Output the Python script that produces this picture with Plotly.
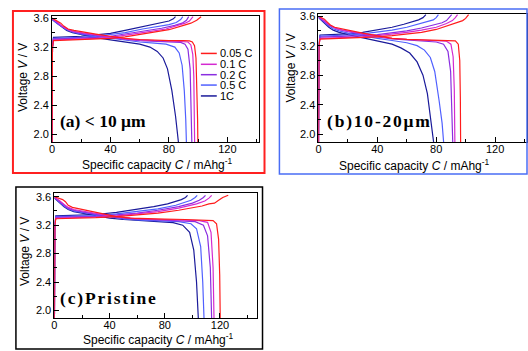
import plotly.graph_objects as go

RATES = ["1C", "0.5 C", "0.2 C", "0.1 C", "0.05 C"]
COLORS = {"0.05 C": "#ff1c1c", "0.1 C": "#d42ad0", "0.2 C": "#8a2ee0", "0.5 C": "#5060ff", "1C": "#1a1a9a"}

# ---------- panel (a) < 10 um ----------
A_DIS = {
    "0.05 C": ([0,2,4,6,8,11,15,20,30,40,50,60,70,80,90,94,96,97.5,98.5,99.2,99.6,99.8],
               [3.60,3.58,3.56,3.53,3.49,3.45,3.43,3.41,3.38,3.35,3.32,3.305,3.295,3.29,3.29,3.285,3.27,3.22,3.05,2.6,2.2,1.85]),
    "0.1 C": ([0,2,4,6,9,12,16,22,30,40,50,60,70,80,90,93,95,96.3,97,97.4,97.6],
              [3.595,3.57,3.54,3.5,3.46,3.43,3.41,3.39,3.37,3.34,3.31,3.295,3.29,3.285,3.28,3.27,3.23,3.1,2.8,2.3,1.85]),
    "0.2 C": ([0,2,4,7,10,14,20,30,40,50,60,70,80,88,91,93,94.5,95.3,95.7],
              [3.59,3.56,3.53,3.48,3.45,3.42,3.39,3.36,3.33,3.305,3.29,3.28,3.275,3.265,3.24,3.17,2.9,2.4,1.85]),
    "0.5 C": ([0,2,4,7,10,14,20,30,40,50,60,70,78,84,87,89,90.5,91.5,92],
              [3.585,3.55,3.52,3.48,3.44,3.41,3.38,3.35,3.32,3.29,3.27,3.255,3.24,3.2,3.12,2.95,2.6,2.2,1.85]),
    "1C": ([0,2,4,7,10,14,20,30,40,50,60,67,72,76,79,82,84.5,86.7],
           [3.58,3.55,3.51,3.47,3.43,3.4,3.37,3.33,3.3,3.27,3.24,3.2,3.14,3.05,2.9,2.6,2.25,1.85]),
}
A_CHG = {
    "0.05 C": ([0,0.3,1,10,20,30,40,50,62,80,90,95,99,102],
               [1.85,3.2,3.29,3.295,3.3,3.31,3.32,3.34,3.38,3.44,3.5,3.53,3.57,3.62]),
    "0.1 C": ([0,0.3,1,10,20,30,40,50,62,78,87,91,94,96.5],
              [1.85,3.2,3.3,3.305,3.31,3.32,3.335,3.36,3.40,3.45,3.5,3.53,3.56,3.62]),
    "0.2 C": ([0,0.3,1,10,20,30,40,50,62,75,84,89,92,93.5],
              [1.85,3.2,3.31,3.315,3.32,3.335,3.35,3.38,3.42,3.46,3.5,3.53,3.57,3.62]),
    "0.5 C": ([0,0.3,1,10,20,30,40,50,62,72,80,85,88,89.5],
              [1.85,3.2,3.32,3.325,3.335,3.35,3.37,3.40,3.45,3.48,3.51,3.54,3.58,3.62]),
    "1C": ([0,0.3,1,10,20,30,40,50,62,70,76,80,83,84.5],
           [1.85,3.2,3.335,3.34,3.35,3.37,3.39,3.43,3.48,3.51,3.54,3.56,3.59,3.62]),
}

# ---------- panel (b) 10-20 um ----------
B_DIS = {
    "0.05 C": ([0,2,4,6,8,11,15,20,30,40,50,60,70,80,90,93,95,96,96.4,96.6],
               [3.6,3.58,3.56,3.52,3.48,3.45,3.43,3.41,3.37,3.33,3.3,3.285,3.28,3.275,3.27,3.265,3.22,3.0,2.5,1.85]),
    "0.1 C": ([0,2,4,6,9,12,16,22,30,40,50,60,70,80,87,90,91.5,92.3,92.7],
              [3.595,3.57,3.54,3.5,3.46,3.43,3.41,3.39,3.36,3.33,3.3,3.285,3.275,3.27,3.26,3.22,3.05,2.6,1.85]),
    "0.2 C": ([0,2,4,7,10,14,20,30,40,50,60,70,80,85,88,89.8,90.8,91.3],
              [3.59,3.56,3.53,3.48,3.45,3.42,3.39,3.35,3.32,3.29,3.275,3.265,3.25,3.22,3.12,2.85,2.35,1.85]),
    "0.5 C": ([0,2,4,7,10,14,20,30,40,50,60,67,72,76,79,82,84,85.2],
              [3.585,3.55,3.51,3.47,3.43,3.4,3.37,3.33,3.3,3.27,3.24,3.2,3.14,3.04,2.85,2.45,2.15,1.85]),
    "1C": ([0,2,4,7,10,14,20,30,40,50,56,62,67,71,74,76.5,78.5],
           [3.58,3.54,3.5,3.45,3.41,3.38,3.35,3.31,3.27,3.22,3.17,3.1,2.98,2.8,2.55,2.2,1.85]),
}
B_CHG = {
    "0.05 C": ([0,0.3,1,10,20,30,40,50,60,70,80,88,94,98,100,102],
               [1.85,3.2,3.29,3.295,3.3,3.31,3.32,3.335,3.355,3.38,3.42,3.47,3.51,3.54,3.57,3.62]),
    "0.1 C": ([0,0.3,1,10,20,30,40,50,60,70,80,87,91,93,94.5],
              [1.85,3.2,3.3,3.305,3.31,3.32,3.335,3.355,3.38,3.41,3.45,3.5,3.54,3.58,3.62]),
    "0.2 C": ([0,0.3,1,10,20,30,40,50,60,70,78,84,87,89,90.5],
              [1.85,3.2,3.315,3.32,3.325,3.335,3.35,3.37,3.40,3.44,3.48,3.51,3.54,3.58,3.62]),
    "0.5 C": ([0,0.3,1,10,20,30,40,50,60,68,74,78,80,81.5],
              [1.85,3.2,3.33,3.335,3.345,3.36,3.38,3.41,3.45,3.49,3.52,3.55,3.58,3.62]),
    "1C": ([0,0.3,1,10,20,30,40,50,58,64,68,71,73],
           [1.85,3.2,3.345,3.35,3.36,3.38,3.41,3.45,3.49,3.52,3.55,3.58,3.62]),
}

# ---------- panel (c) Pristine ----------
C_DIS = {
    "0.05 C": ([0,2,4,6,8,10,13,18,25,35,45,55,65,80,95,110,115,117.5,119,119.8,120.2],
               [3.6,3.585,3.57,3.56,3.53,3.48,3.45,3.43,3.4,3.36,3.32,3.3,3.29,3.285,3.28,3.275,3.265,3.22,3.0,2.5,1.85]),
    "0.1 C": ([0,2,4,7,10,14,20,30,40,50,60,75,90,105,111,113.5,115,115.7],
              [3.595,3.57,3.54,3.49,3.45,3.42,3.4,3.37,3.33,3.31,3.29,3.28,3.275,3.265,3.24,3.1,2.6,1.85]),
    "0.2 C": ([0,2,4,7,10,14,20,30,40,50,60,75,90,102,108,111,113,114],
              [3.59,3.56,3.53,3.48,3.44,3.41,3.39,3.36,3.32,3.3,3.285,3.275,3.265,3.25,3.2,3.05,2.6,1.85]),
    "0.5 C": ([0,2,4,7,10,14,20,30,40,50,60,75,90,99,103,106,107.5,108.5],
              [3.585,3.55,3.52,3.47,3.43,3.4,3.38,3.35,3.31,3.29,3.275,3.265,3.25,3.22,3.15,2.9,2.4,1.85]),
    "1C": ([0,2,4,7,10,14,20,30,40,50,60,75,86,93,98,101,103,104.4],
           [3.58,3.54,3.51,3.46,3.42,3.39,3.37,3.33,3.3,3.28,3.265,3.25,3.235,3.2,3.1,2.85,2.4,1.85]),
}
C_CHG = {
    "0.05 C": ([0,0.3,1,15,30,45,60,75,90,100,107,112,116,119,122,126],
               [1.85,3.2,3.29,3.295,3.305,3.32,3.34,3.37,3.41,3.44,3.47,3.5,3.51,3.55,3.59,3.62]),
    "0.1 C": ([0,0.3,1,15,30,45,60,75,90,103,109,112,114],
              [1.85,3.2,3.3,3.305,3.315,3.33,3.355,3.39,3.44,3.5,3.54,3.58,3.62]),
    "0.2 C": ([0,0.3,1,15,30,45,60,75,90,100,105,108,109.5],
              [1.85,3.2,3.31,3.315,3.325,3.345,3.37,3.41,3.46,3.51,3.55,3.59,3.62]),
    "0.5 C": ([0,0.3,1,15,30,45,60,75,88,95,99,102,103.5],
              [1.85,3.2,3.32,3.325,3.335,3.36,3.39,3.43,3.48,3.52,3.55,3.59,3.62]),
    "1C": ([0,0.3,1,15,30,45,60,72,82,88,92,95,96.5],
           [1.85,3.2,3.33,3.335,3.35,3.38,3.42,3.46,3.5,3.53,3.56,3.59,3.62]),
}

PANEL_TITLES = ["(a) &lt; 10 μm", "(b)10-20μm", "(c)Pristine"]
X_TICKS = [0, 40, 80, 120]
Y_TICKS = [2.0, 2.4, 2.8, 3.2, 3.6]

W, H = 528, 351
def px(x):
    return x / W
def py(y):
    return 1 - y / H

fig = go.Figure()
panels = [(A_DIS, A_CHG, "x", "y"), (B_DIS, B_CHG, "x2", "y2"), (C_DIS, C_CHG, "x3", "y3")]
for dis, chg, xa, ya in panels:
    for r in RATES:
        for data in (chg, dis):
            c, v = data[r]
            fig.add_trace(go.Scatter(x=c, y=v, mode="lines", xaxis=xa, yaxis=ya,
                                     line=dict(color=COLORS[r], width=1.2),
                                     showlegend=False, hoverinfo="skip"))

FONT = "Liberation Sans, Arial, sans-serif"
def xax(dom, rng):
    return dict(domain=dom, range=rng, tickvals=X_TICKS, ticks="inside", ticklen=5,
                tickwidth=1, tickcolor="black", showline=True, linecolor="black", linewidth=1,
                mirror=True, showgrid=False, zeroline=False, ticklabelstandoff=-4,
                tickfont=dict(family=FONT, size=11, color="black"),
                minor=dict(tickvals=[20, 60, 100, 140], ticks="inside", ticklen=3, tickcolor="black"))
def yax(dom, rng, anchor):
    return dict(domain=dom, range=rng, tickvals=Y_TICKS, tickformat=".1f", ticks="inside", ticklen=5,
                tickwidth=1, tickcolor="black", showline=True, linecolor="black", linewidth=1,
                mirror=True, showgrid=False, zeroline=False, anchor=anchor,
                tickfont=dict(family=FONT, size=11, color="black"),
                minor=dict(tickvals=[2.2, 2.6, 3.0, 3.4], ticks="inside", ticklen=3, tickcolor="black"))

fig.update_layout(
    width=W, height=H, margin=dict(l=0, r=0, t=0, b=0),
    paper_bgcolor="white", plot_bgcolor="white", showlegend=False,
    xaxis=dict(xax([px(49.3), px(257)], [0, 141.3]), anchor="y"),
    yaxis=yax([py(140), py(12)], [1.885, 3.631], "x"),
    xaxis2=dict(xax([px(317.3), px(526.7)], [0, 141.5]), anchor="y2"),
    yaxis2=yax([py(140), py(10)], [1.888, 3.631], "x2"),
    xaxis3=dict(xax([px(51.7), px(255)], [0, 146.5]), anchor="y3"),
    yaxis3=yax([py(318), py(191)], [1.889, 3.655], "x3"),
)

shapes = [
    dict(type="rect", xref="paper", yref="paper", x0=px(10), x1=px(263), y0=py(171), y1=py(7),
         line=dict(color="#ff2020", width=2)),
    dict(type="rect", xref="paper", yref="paper", x0=px(278), x1=px(527), y0=py(172), y1=py(5),
         line=dict(color="#4a6ef5", width=1.5)),
    dict(type="rect", xref="paper", yref="paper", x0=px(13), x1=px(261), y0=py(349), y1=py(185),
         line=dict(color="black", width=1.5)),
]
ann = []
# legend (panel a)
leg_y = [50, 61, 71.5, 82, 93]
for r, yy in zip(["0.05 C", "0.1 C", "0.2 C", "0.5 C", "1C"], leg_y):
    shapes.append(dict(type="line", xref="paper", yref="paper", x0=px(199), x1=px(215),
                       y0=py(yy), y1=py(yy), line=dict(color=COLORS[r], width=1.5)))
    ann.append(dict(text=r, xref="paper", yref="paper", x=px(217), y=py(yy), xanchor="left",
                    yanchor="middle", showarrow=False, height=10, borderpad=0,
                    font=dict(family=FONT, size=11, color="black")))

# panel labels
for i, (t, (xx, yy)) in enumerate(zip(PANEL_TITLES, [(55, 118), (333, 118), (65, 297)])):
    ann.append(dict(text="<b>" + t + "</b>", xref="paper", yref="paper", x=px(xx), y=py(yy),
                    xanchor="left", yanchor="middle", showarrow=False, name="plab%d" % i,
                    font=dict(family="Liberation Serif, Times New Roman, serif", size=17.5, color="black")))

xt = "Specific capacity <i>C</i> / mAhg<sup>-1</sup>"
yt = "Voltage <i>V</i> / V"
for (xx, yy) in [(155, 162), (414, 163), (156, 339)]:
    ann.append(dict(text=xt, xref="paper", yref="paper", x=px(xx), y=py(yy), xanchor="center",
                    yanchor="middle", showarrow=False, font=dict(family=FONT, size=12, color="black")))
for (xx, yy) in [(20, 74), (290, 65), (22, 250)]:
    ann.append(dict(text=yt, xref="paper", yref="paper", x=px(xx), y=py(yy), xanchor="center",
                    yanchor="middle", textangle=-90, showarrow=False,
                    font=dict(family=FONT, size=12, color="black")))

fig.update_layout(shapes=shapes, annotations=ann)

POST = """
document.querySelectorAll('.annotation-text').forEach(function(t){
  var s = t.textContent;
  if (s.indexOf('Pristine') >= 0 || s.indexOf('10-20') >= 0) { t.setAttribute('letter-spacing', '1.8px'); }
});
"""
fig.write_html("out.html", post_script=POST)
